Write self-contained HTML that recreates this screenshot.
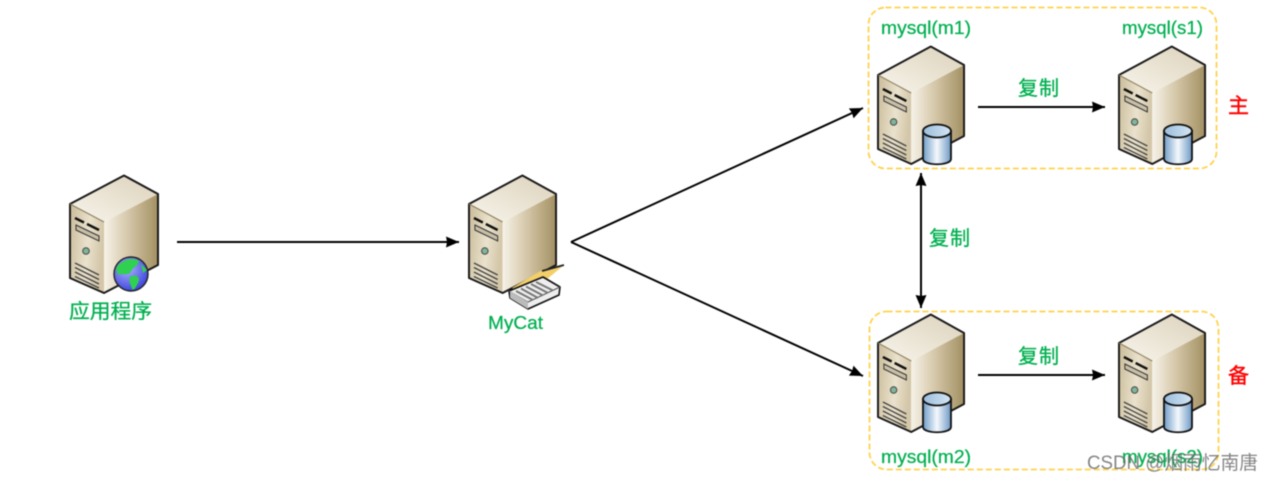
<!DOCTYPE html>
<html><head><meta charset="utf-8">
<style>
html,body{margin:0;padding:0;background:#fff;width:1274px;height:481px;overflow:hidden}
svg{display:block;filter:blur(.4px)}
text{font-family:"Liberation Sans","Noto Sans CJK SC",sans-serif}
.g{fill:#00b050;font-size:18px;stroke:#00b050;stroke-width:.25}
.c{fill:#00b050;font-size:20px;stroke:#00b050;stroke-width:.3}
.r{fill:#ff0000;font-size:21px;stroke:#ff0000;stroke-width:.4}
</style></head><body>
<svg width="1274" height="481" viewBox="0 0 1274 481" xmlns="http://www.w3.org/2000/svg">
<defs>
<linearGradient id="lf" x1="0" y1="0" x2="1" y2="0.25"><stop offset="0" stop-color="#c9bb98"/><stop offset=".6" stop-color="#eae2cd"/><stop offset="1" stop-color="#d4c7a9"/></linearGradient>
<linearGradient id="rf" x1="0" y1="0" x2="1" y2="0"><stop offset="0" stop-color="#f6f2e8"/><stop offset=".4" stop-color="#d9ccaf"/><stop offset="1" stop-color="#a39062"/></linearGradient>
<linearGradient id="tf" x1="0" y1="1" x2="1" y2="0"><stop offset="0" stop-color="#f8f5ec"/><stop offset="1" stop-color="#dcd2bb"/></linearGradient>
<linearGradient id="cy" x1="0" y1="0" x2="1" y2="0"><stop offset="0" stop-color="#6f9cc9"/><stop offset=".5" stop-color="#f4f8fc"/><stop offset="1" stop-color="#6c98c4"/></linearGradient>
<linearGradient id="cyt" x1="0" y1="0" x2="1" y2="0"><stop offset="0" stop-color="#9abddd"/><stop offset="1" stop-color="#d5e5f3"/></linearGradient>
<radialGradient id="gl" cx=".4" cy=".35" r=".7"><stop offset="0" stop-color="#a8b0ff"/><stop offset="1" stop-color="#3a40d8"/></radialGradient>
<marker id="ah" markerWidth="14" markerHeight="12" refX="13" refY="6" orient="auto-start-reverse" markerUnits="userSpaceOnUse"><path d="M0 0.500L13 6L0 11.500L1 6Z" fill="#000"/></marker>
<symbol id="srv" width="90" height="122" viewBox="0 0 90 122" overflow="visible" preserveAspectRatio="none">
<path d="M0 29L54 .5L88 19L34 47Z" fill="url(#tf)"/>
<path d="M0 29L34 47V118L0 103Z" fill="url(#lf)"/>
<path d="M34 47L88 19V90L34 118Z" fill="url(#rf)"/>
<path d="M0 29L54 .5L88 19V90L34 118L0 103Z" fill="none" stroke="#1a1a1a" stroke-width="2" stroke-linejoin="round"/>
<path d="M0 29L34 47" fill="none" stroke="#8b7c5c" stroke-width="1"/>
<path d="M5 43L14 47.500" stroke="#111" stroke-width="2.400"/>
<path d="M17 49L29 55" stroke="#111" stroke-width="2.400"/>
<path d="M6 50L29 61V66L6 55Z" fill="#c9bfa8" stroke="#333" stroke-width="1"/>
<circle cx="16" cy="76" r="3.300" fill="#7fb59a" stroke="#444" stroke-width="1"/>
<path d="M5 88L29 100M5 92.500L29 104.500M5 97L29 109M5 101.500L29 113" stroke="#444" stroke-width="1.300"/>
</symbol>
<symbol id="db" width="90" height="122" viewBox="0 0 90 122" overflow="visible">
<use href="#srv" width="88" height="122"/>
<path d="M45 85V113C45 120 73 120 73 113V85Z" fill="url(#cy)" stroke="#111" stroke-width="1.800"/>
<ellipse cx="59" cy="85" rx="14" ry="6.500" fill="url(#cyt)" stroke="#111" stroke-width="1.800"/>
</symbol>
</defs>

<rect x="868.500" y="7.500" width="348" height="161" rx="17" fill="none" stroke="#ffd34d" stroke-width="1.800" stroke-dasharray="6 3"/>
<rect x="869.500" y="311.500" width="349" height="158" rx="17" fill="none" stroke="#ffd34d" stroke-width="1.800" stroke-dasharray="6 3"/>

<use href="#srv" x="70" y="175" width="90" height="122"/>
<circle cx="131" cy="274" r="17" fill="url(#gl)" stroke="#222" stroke-width="1.400"/>
<path d="M116 268C122 259 133 257 139 261C137 268 132 267 131 272C126 277 124 272 118 275Z" fill="#30d050"/>
<path d="M130 277C136 273 141 278 138 283C136 287 134 291 132 289C131 285 128 281 130 277Z" fill="#30d050"/>
<path d="M141 264L147 270L143 273Z" fill="#30d050"/>

<use href="#srv" x="469" y="175" width="89" height="122"/>
<path d="M512 288L542 270L564 265L546 280L528 296Z" fill="#f3cf6a"/>
<path d="M542 271L564 265" stroke="#222" stroke-width="1.800"/>
<path d="M509 291L543 277L560 287L559 295L528 309L510 298Z" fill="#eee" stroke="#111" stroke-width="1.600" stroke-linejoin="round"/>
<path d="M509 291L528 302L560 287" fill="none" stroke="#555" stroke-width="1"/>
<path d="M516 291L533 300M521 288.500L538 298M526 286.500L543 295.500M531 284L548 293M536 282L553 290.500" stroke="#777" stroke-width="2"/>
<path d="M528 302V309L510 298V291Z" fill="#bbb"/>

<use href="#db" x="878" y="46" width="90" height="122"/>
<use href="#db" x="1119" y="46" width="90" height="122"/>
<use href="#db" x="878" y="314" width="90" height="122"/>
<use href="#db" x="1119" y="314" width="90" height="122"/>

<g stroke="#000" stroke-width="2" fill="none">
<path d="M177 242H459" marker-end="url(#ah)"/>
<path d="M571 242L863 108" marker-end="url(#ah)"/>
<path d="M571 242L863 376" marker-end="url(#ah)"/>
<path d="M921 173V308" marker-start="url(#ah)" marker-end="url(#ah)"/>
<path d="M978 107H1105" marker-end="url(#ah)"/>
<path d="M978 375H1105" marker-end="url(#ah)"/>
</g>

<text class="c" x="69" y="318" textLength="83" lengthAdjust="spacingAndGlyphs">应用程序</text>
<text class="g" x="488" y="329" textLength="55" lengthAdjust="spacingAndGlyphs">MyCat</text>
<text class="g" x="881" y="34" textLength="90" lengthAdjust="spacingAndGlyphs">mysql(m1)</text>
<text class="g" x="1122" y="34" textLength="81" lengthAdjust="spacingAndGlyphs">mysql(s1)</text>
<text class="g" x="881" y="463" textLength="90" lengthAdjust="spacingAndGlyphs">mysql(m2)</text>
<text class="g" x="1122" y="463" textLength="81" lengthAdjust="spacingAndGlyphs">mysql(s2)</text>
<text class="c" x="1018" y="95" textLength="41">复制</text>
<text class="c" x="1018" y="363" textLength="41">复制</text>
<text class="c" x="929" y="245" textLength="41">复制</text>
<text class="r" x="1228" y="113">主</text>
<text class="r" x="1228" y="383">备</text>
<text x="1087" y="469" font-size="19" fill="#666" fill-opacity=".8" textLength="171" lengthAdjust="spacingAndGlyphs">CSDN @烟雨忆南唐</text>
</svg>
</body></html>
